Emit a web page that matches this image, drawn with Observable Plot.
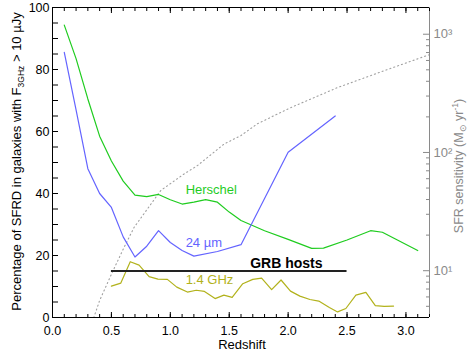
<!DOCTYPE html>
<html><head><meta charset="utf-8">
<script src="https://cdn.jsdelivr.net/npm/d3@7"></script>
<script src="https://cdn.jsdelivr.net/npm/@observablehq/plot@0.6"></script>
<style>body{margin:0;background:#fff}</style>
</head><body><div id="chart"></div>
<script>
// ---- data ----
const xDomain = [0, 3.2];
const yDomain = [0, 100];
const sfrDomain = [4.02, 1683];

const zHerschel = [0.1, 0.2, 0.3, 0.4, 0.5, 0.6, 0.7, 0.8, 0.9, 1.0, 1.1, 1.2, 1.3, 1.4, 1.5, 1.6, 1.8, 2.0, 2.2, 2.3, 2.5, 2.7, 2.8, 3.1];
const pctHerschel = [94.3, 83.5, 70.5, 58.5, 50.5, 44, 39.5, 39, 39.7, 38, 36.6, 37.2, 38, 37.2, 34, 31.3, 28, 25.2, 22.3, 22.4, 25, 28, 27.5, 21.6];

const z24 = [0.1, 0.2, 0.3, 0.4, 0.5, 0.6, 0.7, 0.8, 0.9, 1.0, 1.1, 1.2, 1.4, 1.6, 2.0, 2.4];
const pct24 = [85.5, 67, 48, 40, 35.5, 26, 19.5, 23, 28, 24.2, 21.6, 19.8, 21.3, 23.5, 53.3, 65];

const zRadio = [0.50, 0.58, 0.66, 0.735, 0.82, 0.895, 0.975, 1.055, 1.145, 1.22, 1.29, 1.38, 1.455, 1.525, 1.615, 1.70, 1.775, 1.86, 1.94, 2.02, 2.10, 2.185, 2.26, 2.35, 2.42, 2.49, 2.575, 2.66, 2.74, 2.815, 2.895];
const pctRadio = [10.1, 11.1, 18, 16.9, 13.2, 12.4, 12.3, 9.8, 8.2, 8.8, 8.4, 6.1, 7.2, 6.5, 10.9, 12.3, 12.7, 9.0, 12.1, 8.5, 6.9, 5.8, 5.3, 3.2, 1.8, 2.9, 7.2, 8.1, 3.8, 3.6, 3.7];

const grbRange = [0.5, 2.5];
const grbPct = 15;

const zSens = [0.35, 0.4, 0.495, 0.6, 0.693, 0.92, 1.117, 1.23, 1.457, 1.6, 1.74, 2.02, 2.42, 2.787, 3.17, 3.2];
const sfrSens = [4.0, 5.6, 9.1, 15.2, 23.3, 47.8, 65.8, 77.4, 118, 139, 175, 239, 354, 480, 656, 671];

const xMajorTicks = [0, 0.5, 1.0, 1.5, 2.0, 2.5, 3.0];
const xMinorTicks = [0,0.1,0.2,0.3,0.4,0.5,0.6,0.7,0.8,0.9,1.0,1.1,1.2,1.3,1.4,1.5,1.6,1.7,1.8,1.9,2.0,2.1,2.2,2.3,2.4,2.5,2.6,2.7,2.8,2.9,3.0,3.1,3.2];
const yMajorTicks = [0, 20, 40, 60, 80, 100];
const yMinorTicks = [0,5,10,15,20,25,30,35,40,45,50,55,60,65,70,75,80,85,90,95,100];
const sfrMajorTicks = [10, 100, 1000];
const sfrMajorLabels = ["10\u00b9", "10\u00b2", "10\u00b3"];
const sfrMinorTicks = [5,6,7,8,9,20,30,40,50,60,70,80,90,200,300,400,500,600,700,800,900];

const seriesLabels = [
  {z: 1.13, v: 39.7, text: "Herschel", key: "her"},
  {z: 1.13, v: 22.9, text: "24 \u00b5m", key: "m24"},
  {z: 1.13, v: 10.9, text: "1.4 GHz", key: "radio"}
];
const grbLabel = [{z: 1.985, v: 15.9, text: "GRB hosts"}];

// ---- build ----
const colors = {her: "#1fcc1f", m24: "#6464ff", radio: "#b2b21c"};
const L0 = Math.log10(sfrDomain[0]), L1 = Math.log10(sfrDomain[1]);
const sfrToPct = s => (Math.log10(s) - L0) / (L1 - L0) * 100;

const her = zHerschel.map((z, i) => ({z, v: pctHerschel[i]}));
const m24 = z24.map((z, i) => ({z, v: pct24[i]}));
const radio = zRadio.map((z, i) => ({z, v: pctRadio[i]}));
const sens = zSens.map((z, i) => ({z, v: sfrToPct(sfrSens[i])}));
const grb = [{x1: grbRange[0], x2: grbRange[1], y: grbPct}];

const gray = "#8a8a8a";
const noText = () => "";

const chart = Plot.plot({
  width: 471, height: 353,
  marginLeft: 52, marginRight: 42, marginTop: 7, marginBottom: 36,
  x: {domain: xDomain, label: null},
  y: {domain: yDomain, label: null},
  style: {fontFamily: "'Liberation Sans', Arial, sans-serif", fontSize: "13px", background: "white", color: "black"},
  marks: [
    Plot.line(sens, {x: "z", y: "v", stroke: "#a0a0a0", strokeWidth: 1.1, strokeDasharray: "1.1,3", clip: true}),
    Plot.line(her, {x: "z", y: "v", stroke: colors.her, strokeWidth: 1.2}),
    Plot.line(m24, {x: "z", y: "v", stroke: colors.m24, strokeWidth: 1.2}),
    Plot.line(radio, {x: "z", y: "v", stroke: colors.radio, strokeWidth: 1.2}),
    Plot.ruleY(grb, {y: "y", x1: "x1", x2: "x2", stroke: "#222", strokeWidth: 2}),
    Plot.text(seriesLabels, {x: "z", y: "v", text: "text", fill: d => colors[d.key], textAnchor: "start", lineAnchor: "bottom", fontSize: 13}),
    Plot.text(grbLabel, {x: "z", y: "v", text: "text", textAnchor: "middle", lineAnchor: "bottom", fontSize: 14, fontWeight: "bold", fill: "black"}),
    // frame
    Plot.ruleX([xDomain[0]], {stroke: "black"}),
    Plot.ruleY([yDomain[0], yDomain[1]], {stroke: "black"}),
    Plot.ruleX([xDomain[1]], {stroke: gray}),
    // bottom axis
    Plot.axisX({anchor: "bottom", ticks: xMajorTicks, tickSize: 0, tickPadding: 8.5, tickFormat: d3.format(".1f"), label: null, fontSize: 12.5}),
    Plot.axisX({anchor: "bottom", ticks: xMajorTicks, tickSize: -5, tickFormat: noText, label: null}),
    Plot.axisX({anchor: "bottom", ticks: xMinorTicks, tickSize: -3, tickFormat: noText, label: null}),
    // top axis
    Plot.axisX({anchor: "top", ticks: xMajorTicks, tickSize: -5, tickFormat: noText, label: null}),
    Plot.axisX({anchor: "top", ticks: xMinorTicks, tickSize: -3, tickFormat: noText, label: null}),
    // left axis
    Plot.axisY({anchor: "left", ticks: yMajorTicks, tickSize: 0, tickPadding: 3, tickFormat: d => String(d), label: null, fontSize: 12.5}),
    Plot.axisY({anchor: "left", ticks: yMinorTicks, tickSize: -6, tickFormat: noText, label: null}),
    // right axis (log SFR)
    Plot.axisY({anchor: "right", ticks: sfrMajorTicks.map(sfrToPct), tickSize: 0, tickPadding: 4, tickFormat: (d, i) => sfrMajorLabels[i], label: null, fill: gray, fontSize: 13}),
    Plot.axisY({anchor: "right", ticks: sfrMajorTicks.map(sfrToPct), tickSize: -7, tickFormat: noText, label: null, stroke: gray}),
    Plot.axisY({anchor: "right", ticks: sfrMinorTicks.map(sfrToPct), tickSize: -4, tickFormat: noText, label: null, stroke: gray})
  ]
});
document.getElementById("chart").appendChild(chart);

const svg = d3.select(chart);
const ff = "'Liberation Sans', Arial, sans-serif";
// x title
svg.append("text").attr("x", 242).attr("y", 348.5).attr("text-anchor", "middle")
  .attr("font-family", ff).attr("font-size", 13).attr("fill", "black").text("Redshift");
// left title
const lt = svg.append("text").attr("transform", "translate(20.5,161.5) rotate(-90)")
  .attr("text-anchor", "middle").attr("font-family", ff).attr("font-size", 13).attr("fill", "black");
lt.append("tspan").text("Percentage of SFRD in galaxies with F");
lt.append("tspan").attr("dy", 3).attr("font-size", 8.5).text("3GHz");
lt.append("tspan").attr("dy", -3).text(" > 10 \u00b5Jy");
// right title
const rt = svg.append("text").attr("transform", "translate(463,166) rotate(-90)")
  .attr("text-anchor", "middle").attr("font-family", ff).attr("font-size", 12.5).attr("fill", gray);
rt.append("tspan").text("SFR sensitivity (M");
rt.append("tspan").attr("dy", 3).attr("font-size", 8.5).text("\u2299");
rt.append("tspan").attr("dy", -3).text(" yr");
rt.append("tspan").attr("dy", -5).attr("font-size", 8.5).text("-1");
rt.append("tspan").attr("dy", 5).text(")");
</script>
</body></html>
